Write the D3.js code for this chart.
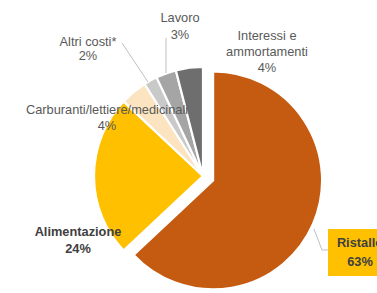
<!DOCTYPE html>
<html><head><meta charset="utf-8">
<script src="https://cdn.jsdelivr.net/npm/d3@7"></script>
<style>body{margin:0;background:#fff}svg{display:block}</style>
</head><body>
<script>
const categories = ["Ristallo","Alimentazione","Carburanti/lettiere/medicinali","Altri costi*","Lavoro","Interessi e ammortamenti"];
const values = [63,24,4,2,3,4];
const colors = ["#C55A11","#FFC000","#FCE4C0","#C9C9C9","#A5A5A5","#6E6E6E"];
const explode = [11,0,0,0,0,0];

const W=377,H=293, cx=203, cy=176, R=109;
const svg=d3.select("body").append("svg").attr("width",W).attr("height",H);
const pie=d3.pie().sort(null).value(d=>d)(values);
const arc=d3.arc().innerRadius(0).outerRadius(R);
const g=svg.append("g").attr("transform",`translate(${cx},${cy})`);
g.selectAll("path").data(pie).join("path")
 .attr("d",arc)
 .attr("fill",(d,i)=>colors[i])
 .attr("stroke","#fff").attr("stroke-width",2.2).attr("stroke-linejoin","round")
 .attr("transform",(d,i)=>{const a=(d.startAngle+d.endAngle)/2;return `translate(${Math.sin(a)*explode[i]},${-Math.cos(a)*explode[i]})`;});

// leader lines
const lc="#BFBFBF";
svg.append("path").attr("d","M122,43 L148,82").attr("stroke",lc).attr("fill","none").attr("stroke-width",1);
svg.append("path").attr("d","M166,38 L166,73").attr("stroke",lc).attr("fill","none").attr("stroke-width",1);
svg.append("path").attr("d","M314,229 L322,250 L329,250").attr("stroke",lc).attr("fill","none").attr("stroke-width",1);

// Ristallo box
svg.append("rect").attr("x",328).attr("y",229).attr("width",60).attr("height",47).attr("fill","#FFC000");

const labels=[
 {lines:[categories[4],values[4]+"%"],x:180,y:[22,39],bold:false},
 {lines:[categories[3],values[3]+"%"],x:88,y:[46,60],bold:false},
 {lines:["Interessi e","ammortamenti",values[5]+"%"],x:267,y:[40,56,72],bold:false},
 {lines:[categories[2],values[2]+"%"],x:107,y:[114,130],bold:false},
 {lines:[categories[1],values[1]+"%"],x:78,y:[236,253],bold:true},
 {lines:[categories[0],values[0]+"%"],x:360,y:[247,266],bold:true}
];
labels.forEach(l=>{
 l.lines.forEach((t,j)=>{
  svg.append("text").attr("x",l.x).attr("y",l.y[j]).attr("text-anchor","middle")
   .attr("font-family","Liberation Sans, Arial, sans-serif").attr("font-size",12.8)
   .attr("font-weight",l.bold?"bold":"normal")
   .attr("fill",l.bold?"#404040":"#595959").text(t);
 });
});
</script>
</body></html>
